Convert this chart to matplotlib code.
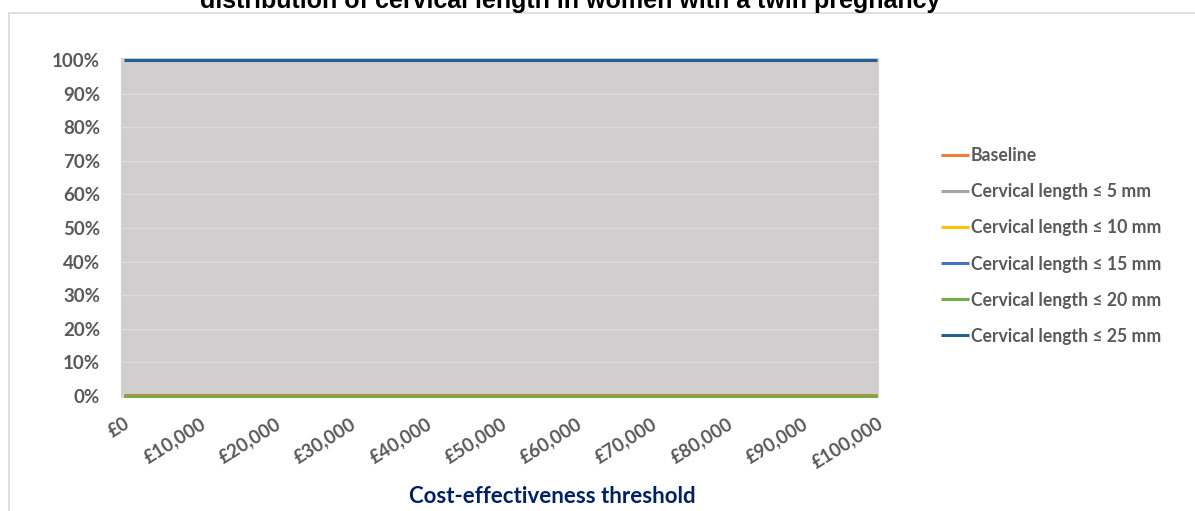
import numpy as np
import matplotlib.pyplot as plt
from matplotlib.patches import Rectangle

# thresholds in GBP, every 10,000 from 0 to 100,000
thresholds = [0, 10000, 20000, 30000, 40000, 50000, 60000, 70000, 80000, 90000, 100000]
tick_labels = ['£0', '£10,000', '£20,000', '£30,000', '£40,000', '£50,000',
               '£60,000', '£70,000', '£80,000', '£90,000', '£100,000']

# probability of being cost-effective per strategy
baseline = [0.003] * 11
cl_5mm = [0.0] * 11
cl_10mm = [0.0] * 11
cl_15mm = [0.0] * 11
cl_20mm = [0.0] * 11
cl_25mm = [1.0] * 11

series = [
    ('Baseline', baseline, '#ED7D31'),
    ('Cervical length ≤ 5 mm', cl_5mm, '#A5A5A5'),
    ('Cervical length ≤ 10 mm', cl_10mm, '#FFC000'),
    ('Cervical length ≤ 15 mm', cl_15mm, '#4472C4'),
    ('Cervical length ≤ 20 mm', cl_20mm, '#70AD47'),
    ('Cervical length ≤ 25 mm', cl_25mm, '#255E91'),
]

fonts = ['Lato', 'DejaVu Sans']
grey_text = '#595959'

W, H = 1195, 511
fig = plt.figure(figsize=(W / 100, H / 100), dpi=100)

# chart area border
fig.patches.append(Rectangle((9 / W, -0.1), 1.1, 1 - 13 / H + 0.1, transform=fig.transFigure,
                             fill=False, edgecolor='#D9D9D9', linewidth=1.2, zorder=0))

ax = fig.add_axes([121 / W, 1 - 398 / H, 758 / W, 340 / H])
ax.set_facecolor('#D0CECE')

for name, vals, col in series:
    ax.plot(thresholds, vals, color=col, linewidth=2.2, label=name, solid_capstyle='butt')

ax.set_xlim(-3 * 100000 / 753, 100000 + 2 * 100000 / 753)
ax.set_ylim(-2 / 336, 1 + 2 / 336)

ax.set_yticks(np.arange(0, 1.01, 0.1))
ax.set_yticklabels([f'{int(round(v * 100))}%' for v in np.arange(0, 1.01, 0.1)])
ax.set_xticks(thresholds)
ax.set_xticklabels(tick_labels)

ax.grid(axis='y', color='#DCDADA', linewidth=0.9)
ax.set_axisbelow(True)
for s in ax.spines.values():
    s.set_visible(False)
ax.tick_params(length=0)
ax.tick_params(axis='y', pad=15)
ax.tick_params(axis='x', pad=12)

for lab in ax.get_yticklabels():
    lab.set_fontfamily(fonts)
    lab.set_fontweight('bold')
    lab.set_fontsize(13.5)
    lab.set_color(grey_text)
for lab in ax.get_xticklabels():
    lab.set_fontfamily(fonts)
    lab.set_fontweight('bold')
    lab.set_fontsize(13.5)
    lab.set_color(grey_text)
    lab.set_rotation(32)
    lab.set_ha('right')
    lab.set_va('top')
    lab.set_rotation_mode('anchor')

fig.text(552 / W, 1 - 503 / H, 'Cost-effectiveness threshold', ha='center', va='baseline',
         fontsize=16, fontweight='bold', color='#002060', family=fonts)

fig.text(570 / W, 1 - 8 / H, 'distribution of cervical length in women with a twin pregnancy',
         ha='center', va='baseline', fontsize=18, fontweight='bold', color='black',
         family='Liberation Sans')

leg = ax.legend(loc='center left', bbox_to_anchor=(934 / W, 1 - 246 / H),
                bbox_transform=fig.transFigure, frameon=False, handlelength=1.6,
                handletextpad=0.1, labelspacing=1.08, borderaxespad=0,
                prop={'family': fonts, 'weight': 'bold', 'size': 12.7})
for t in leg.get_texts():
    t.set_color(grey_text)

fig.savefig('out.png', dpi=100)
